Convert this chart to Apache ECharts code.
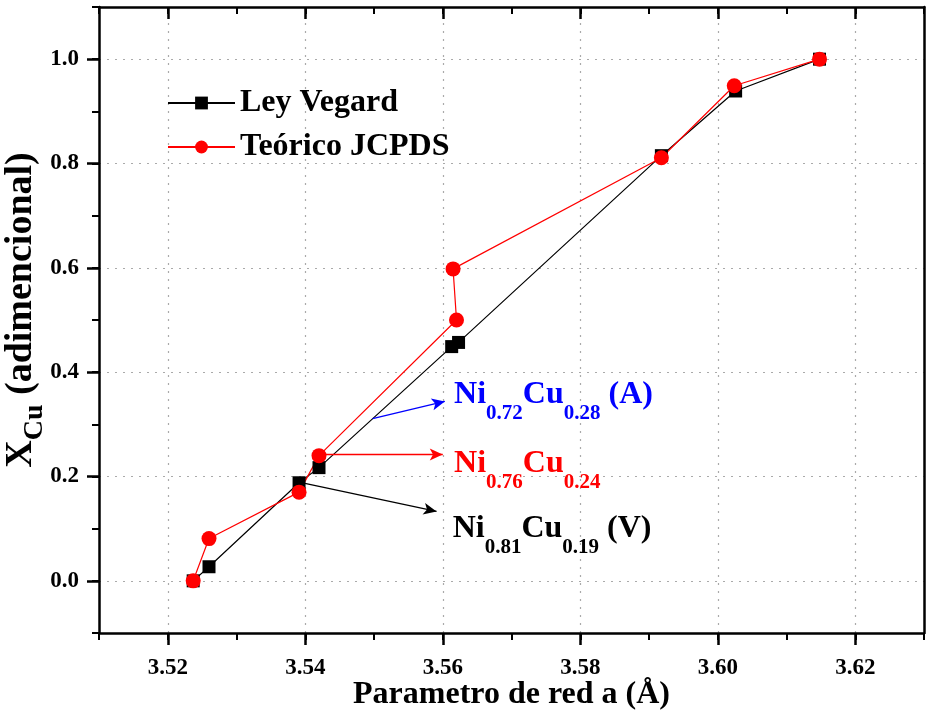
<!DOCTYPE html>
<html>
<head>
<meta charset="utf-8">
<script src="https://cdn.jsdelivr.net/npm/echarts@6/dist/echarts.min.js"></script>
<style>
html, body { margin: 0; padding: 0; background: #fff; }
#main { width: 927px; height: 715px; }
</style>
</head>
<body>
<div id="main"></div>
<script>
// datos
var vegardX = [3.5237, 3.5260, 3.5391, 3.5420, 3.5613, 3.5623, 3.5918, 3.6026, 3.6148];
var vegardY = [0, 0.027, 0.188, 0.217, 0.449, 0.457, 0.815, 0.939, 1.0];
var jcpdsX = [3.5237, 3.5260, 3.5391, 3.5420, 3.5620, 3.5615, 3.5918, 3.6024, 3.6148];
var jcpdsY = [0, 0.081, 0.170, 0.240, 0.500, 0.598, 0.811, 0.949, 1.0];
var xTicks = [3.52, 3.54, 3.56, 3.58, 3.60, 3.62];
var yTicks = [0, 0.2, 0.4, 0.6, 0.8, 1.0];
var seriesNames = ['Ley Vegard', 'Teórico JCPDS'];

// anotaciones: [texto, x, y, color], flechas: [x1, y1, x2, y2, color]
var annoLabels = [
  ['{n|Ni}{s|0.72}{n|Cu}{s|0.28}{n| (A)}', 3.5615, 0.332, '#0000ff'],
  ['{n|Ni}{s|0.76}{n|Cu}{s|0.24}', 3.5615, 0.199, '#ff0000'],
  ['{n|Ni}{s|0.81}{n|Cu}{s|0.19}{n| (V)}', 3.5613, 0.075, '#000000']
];
var annoArrows = [
  [3.5498, 0.311, 3.5603, 0.344, '#0000ff'],
  [3.5420, 0.242, 3.5600, 0.242, '#ff0000'],
  [3.5391, 0.189, 3.5591, 0.133, '#000000']
];

var FONT = '"Liberation Serif", "Times New Roman", serif';

function pairs(xs, ys) {
  return xs.map(function (x, i) { return [x, ys[i]]; });
}

var chart = echarts.init(document.getElementById('main'));

var annoData = annoLabels.map(function (a) {
  return {
    value: [a[1], a[2]],
    label: {
      show: true,
      formatter: a[0],
      rich: {
        n: { fontSize: 32, fontWeight: 'bold', fontFamily: FONT, color: a[3], lineHeight: 32, padding: [0, 0, 13, 0], verticalAlign: 'bottom' },
        s: { fontSize: 21, fontWeight: 'bold', fontFamily: FONT, color: a[3], lineHeight: 21, verticalAlign: 'bottom' }
      }
    }
  };
});

var arrowData = annoArrows.map(function (a) {
  return [
    { coord: [a[0], a[1]], lineStyle: { color: a[4] } },
    { coord: [a[2], a[3]] }
  ];
});

var option = {
  animation: false,
  backgroundColor: '#fff',
  grid: { left: 99, right: 3, top: 7, bottom: 82, outerBoundsMode: 'none', containLabel: false },
  legend: {
    data: seriesNames,
    orient: 'vertical',
    left: 167,
    top: 87,
    padding: 0,
    itemWidth: 67,
    itemHeight: 16,
    itemGap: 12,
    textStyle: { fontSize: 32, fontWeight: 'bold', fontFamily: FONT, color: '#000' }
  },
  xAxis: [
    {
      type: 'value', min: 3.51, max: 3.63, interval: 0.01, position: 'bottom',
      axisLine: { onZero: false, lineStyle: { color: '#000', width: 2.5 } },
      axisTick: { customValues: xTicks, length: 12, lineStyle: { color: '#000', width: 2.5 } },
      axisLabel: {
        customValues: xTicks, margin: 24,
        formatter: function (v) { return v.toFixed(2); },
        fontSize: 23, fontWeight: 'bold', fontFamily: FONT, color: '#000'
      },
      splitLine: { show: true, lineStyle: { color: '#aaa', width: 1.2, type: [2, 6] } },
      name: 'Parametro de red a (Å)', nameLocation: 'middle', nameGap: 46, nameMoveOverlap: false,
      nameTextStyle: { fontSize: 32, fontWeight: 'bold', fontFamily: FONT, color: '#000' }
    },
    {
      type: 'value', min: 3.51, max: 3.63, interval: 0.01, position: 'bottom',
      axisLine: { show: false, onZero: false },
      axisTick: { length: 7, lineStyle: { color: '#000', width: 2 } },
      axisLabel: { show: false }, splitLine: { show: false }
    },
    {
      type: 'value', min: 3.51, max: 3.63, interval: 0.01, position: 'top',
      axisLine: { onZero: false, lineStyle: { color: '#000', width: 2.5 } },
      axisTick: { customValues: xTicks, inside: true, length: 12, lineStyle: { color: '#000', width: 2.5 } },
      axisLabel: { show: false }, splitLine: { show: false }
    },
    {
      type: 'value', min: 3.51, max: 3.63, interval: 0.01, position: 'top',
      axisLine: { show: false, onZero: false },
      axisTick: { inside: true, length: 7, lineStyle: { color: '#000', width: 2 } },
      axisLabel: { show: false }, splitLine: { show: false }
    }
  ],
  yAxis: [
    {
      type: 'value', min: -0.1, max: 1.1, interval: 0.1, position: 'left',
      axisLine: { onZero: false, lineStyle: { color: '#000', width: 2.5 } },
      axisTick: { customValues: yTicks, length: 12, lineStyle: { color: '#000', width: 2.5 } },
      axisLabel: {
        customValues: yTicks, margin: 20,
        formatter: function (v) { return v.toFixed(1); },
        fontSize: 23, fontWeight: 'bold', fontFamily: FONT, color: '#000'
      },
      splitLine: { show: true, lineStyle: { color: '#aaa', width: 1.2, type: [2, 6] } },
      name: '{x|X}{s|Cu}{x| (adimencional)}', nameLocation: 'middle', nameRotate: 90, nameGap: 50,
      nameMoveOverlap: false,
      nameTextStyle: {
        padding: [0, 0, 0, 20],
        rich: {
          x: { fontSize: 38, fontWeight: 'bold', fontFamily: FONT, color: '#000', lineHeight: 38, padding: [0, 0, 9, 0], verticalAlign: 'bottom' },
          s: { fontSize: 28, fontWeight: 'bold', fontFamily: FONT, color: '#000', lineHeight: 28, verticalAlign: 'bottom' }
        }
      }
    },
    {
      type: 'value', min: -0.1, max: 1.1, interval: 0.1, position: 'left',
      axisLine: { show: false, onZero: false },
      axisTick: { length: 7, lineStyle: { color: '#000', width: 2 } },
      axisLabel: { show: false }, splitLine: { show: false }
    },
    {
      type: 'value', min: -0.1, max: 1.1, interval: 0.1, position: 'right',
      axisLine: { onZero: false, lineStyle: { color: '#000', width: 2.5 } },
      axisTick: { show: false }, axisLabel: { show: false }, splitLine: { show: false }
    }
  ],
  series: [
    {
      name: seriesNames[0], type: 'line', xAxisIndex: 0, yAxisIndex: 0,
      data: pairs(vegardX, vegardY),
      symbol: 'rect', symbolSize: 13,
      itemStyle: { color: '#000' },
      lineStyle: { color: '#000', width: 1.2 }
    },
    {
      name: seriesNames[1], type: 'line', xAxisIndex: 0, yAxisIndex: 0,
      data: pairs(jcpdsX, jcpdsY),
      symbol: 'circle', symbolSize: 15,
      itemStyle: { color: '#ff0000' },
      lineStyle: { color: '#ff0000', width: 1.2 }
    },
    {
      name: 'anotaciones', type: 'scatter', xAxisIndex: 0, yAxisIndex: 0,
      data: annoData,
      symbolSize: 2,
      itemStyle: { color: 'rgba(0,0,0,0)', opacity: 1 },
      label: { show: true, position: 'right', distance: 0 },
      labelLayout: { hideOverlap: false },
      silent: true,
      z: 5,
      markLine: {
        silent: true,
        symbol: ['none', 'arrow'],
        symbolSize: [9, 13],
        label: { show: false },
        lineStyle: { type: 'solid', width: 1.3, opacity: 1 },
        data: arrowData
      }
    }
  ]
};

chart.setOption(option);
</script>
</body>
</html>
